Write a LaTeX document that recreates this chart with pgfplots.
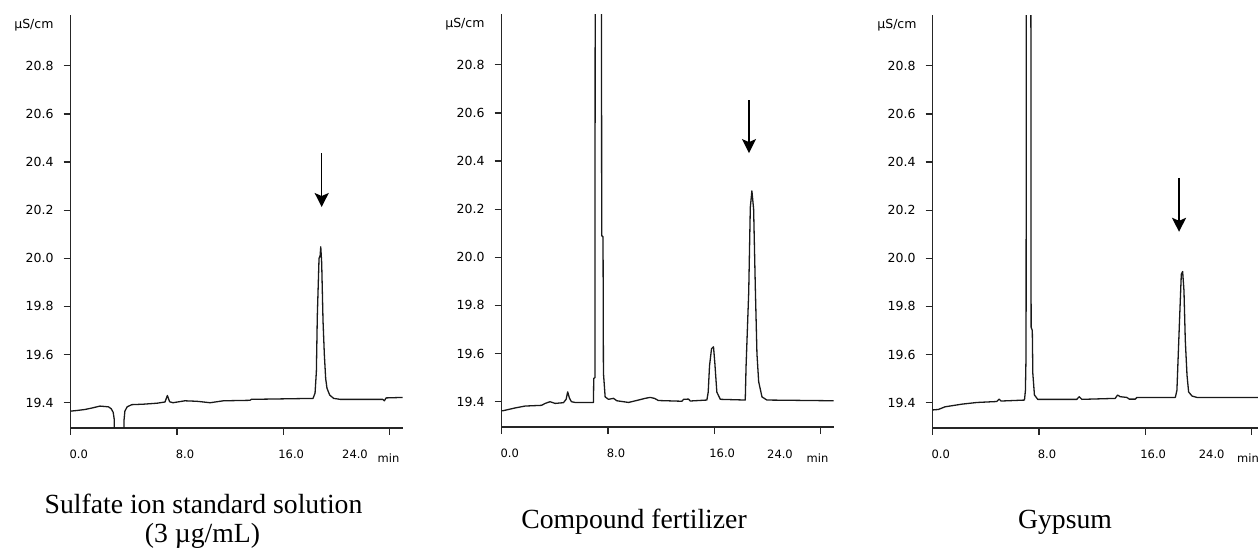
\documentclass[border=0pt]{standalone}
\usepackage{fontspec}
\setmainfont{Liberation Serif}
\newfontfamily\tickfont{DejaVu Sans}
\usepackage{pgfplots}
\pgfplotsset{compat=1.18}
\usetikzlibrary{arrows.meta}

\pgfplotsset{
  chrom/.style={
    scale only axis, width=332pt, height=412.8pt, anchor=south west,
    xmin=0, xmax=25, ymin=19.295, ymax=21.01,
    axis x line*=bottom, axis y line*=left,
    axis line style={line width=1.5pt, black!85},
    tick align=outside, major tick length=7pt,
    tick style={line width=1.3pt, black!85},
    xtick={0,8,16,24}, xticklabels={0.0,8.0,16.0,{}},
    ytick={19.4,19.6,19.8,20.0,20.2,20.4,20.6,20.8},
    yticklabels={19.4,19.6,19.8,20.0,20.2,20.4,20.6,20.8},
    xticklabel style={font=\tickfont\fontsize{11.5}{13}\selectfont, anchor=base, inner sep=0pt, xshift=8pt, yshift=-23.3pt},
    yticklabel style={font=\tickfont\fontsize{12.5}{14}\selectfont, anchor=east, inner sep=0pt, xshift=-10pt},
    clip mode=individual,
  },
  trace/.style={black!90, line width=1.3pt, line join=round, no marks},
}

\begin{document}
\begin{tikzpicture}[x=1pt,y=1pt]
\useasboundingbox (0,0) rectangle (1258,557);

% Panel 1
\begin{axis}[chrom, at={(70.7pt,129pt)}]
\addplot[trace] coordinates {
(0,19.365) (0.5,19.368) (1.08,19.372) (1.6,19.378) (2.2,19.386) (2.84,19.383)
(3.05,19.375) (3.2,19.36) (3.28,19.33) (3.32,19.1) (3.98,19.1) (4.02,19.33)
(4.08,19.365) (4.25,19.383) (4.6,19.392) (5.5,19.394) (6.5,19.398) (7.1,19.403)
(7.28,19.43) (7.45,19.404) (7.7,19.4) (8.6,19.408) (9.5,19.406) (10.5,19.4)
(11.5,19.408) (13.5,19.41) (13.6,19.414) (18.25,19.418) (18.4,19.44) (18.5,19.53)
(18.57,19.76) (18.7,20.0) (18.78,20.01) (18.83,20.048) (18.9,19.98) (19.0,19.74)
(19.1,19.6) (19.2,19.5) (19.3,19.46) (19.5,19.432) (19.8,19.418) (20.3,19.414)
(23.5,19.414) (23.62,19.408) (23.75,19.42) (25,19.422)
};
\node[font=\tickfont\fontsize{12.5}{14}\selectfont, anchor=east, inner sep=0pt] at ([xshift=-17pt]axis cs:0,20.97) {µS/cm};
\draw[line width=1.6pt, -{Stealth[length=14pt,width=14pt,inset=3pt]}] (axis cs:18.9,20.437) -- (axis cs:18.9,20.213);
\end{axis}

% Panel 2
\begin{axis}[chrom, at={(501.7pt,130pt)}]
\addplot[trace] coordinates {
(0,19.362) (0.13,19.363) (1.0,19.374) (1.76,19.382) (3.0,19.385) (3.27,19.393)
(3.64,19.4) (4.02,19.393) (4.65,19.396) (4.85,19.41) (4.97,19.441) (5.1,19.415)
(5.25,19.4) (5.53,19.397) (6.91,19.397) (6.93,19.497) (7.02,19.5) (7.05,22)
(7.3,25) (7.5,22) (7.53,20.09) (7.63,20.085) (7.66,19.52) (7.79,19.42)
(8.04,19.41) (8.42,19.414) (8.67,19.404) (9.55,19.397) (10.3,19.407) (10.8,19.414)
(11.18,19.418) (11.5,19.414) (11.8,19.405) (13.57,19.402) (13.7,19.41) (14.07,19.411)
(14.2,19.403) (15.45,19.407) (15.55,19.44) (15.65,19.55) (15.8,19.62) (15.95,19.628)
(16.05,19.56) (16.2,19.44) (16.46,19.41) (18.34,19.407) (18.4,19.545) (18.6,19.855)
(18.72,20.207) (18.84,20.276) (18.97,20.2) (19.1,19.869) (19.22,19.6) (19.35,19.483)
(19.6,19.42) (19.97,19.407) (25,19.404)
};
\node[font=\tickfont\fontsize{12.5}{14}\selectfont, anchor=east, inner sep=0pt] at ([xshift=-17pt]axis cs:0,20.97) {µS/cm};
\draw[line width=1.6pt, -{Stealth[length=14pt,width=14pt,inset=3pt]}] (axis cs:18.62,20.653) -- (axis cs:18.62,20.433);
\end{axis}

% Panel 3
\begin{axis}[chrom, at={(932.7pt,129pt)}]
\addplot[trace] coordinates {
(0,19.37) (0.43,19.372) (0.93,19.383) (2.19,19.394) (3.32,19.401) (4.82,19.405)
(5.0,19.415) (5.15,19.407) (6.91,19.411) (6.98,19.45) (7.03,19.6) (7.06,22)
(7.25,25) (7.38,22) (7.41,19.714) (7.5,19.7) (7.54,19.521) (7.66,19.432)
(7.91,19.414) (10.85,19.414) (11.03,19.425) (11.23,19.414) (13.74,19.418) (13.92,19.432)
(14.12,19.425) (14.62,19.422) (14.8,19.415) (15.25,19.415) (15.38,19.422) (18.27,19.422)
(18.39,19.452) (18.59,19.748) (18.72,19.934) (18.82,19.945) (18.92,19.866) (19.02,19.659)
(19.15,19.514) (19.27,19.445) (19.52,19.428) (19.9,19.422) (25,19.422)
};
\node[font=\tickfont\fontsize{12.5}{14}\selectfont, anchor=east, inner sep=0pt] at ([xshift=-16pt]axis cs:0,20.97) {µS/cm};
\draw[line width=1.6pt, -{Stealth[length=14pt,width=14pt,inset=3pt]}] (axis cs:18.55,20.334) -- (axis cs:18.55,20.11);
\end{axis}

% last x tick labels and unit
\begin{scope}[every node/.style={font=\tickfont\fontsize{11.5}{13}\selectfont, inner sep=0pt, anchor=base}]
\node at (355,98.7) {24.0};
\node at (388.5,94) {min};
\node at (780,98.7) {24.0};
\node at (817.5,94) {min};
\node at (1211.7,98.7) {24.0};
\node at (1248,94) {min};
\end{scope}

% captions
\begin{scope}[every node/.style={font=\fontsize{27.7}{30}\selectfont, inner sep=0pt, anchor=base}]
\node at (203.5,43.7) {Sulfate ion standard solution};
\node at (202.5,14.3) {(3 µg/mL)};
\node at (634,28.7) {Compound fertilizer};
\node at (1065,29) {Gypsum};
\end{scope}
\end{tikzpicture}
\end{document}
